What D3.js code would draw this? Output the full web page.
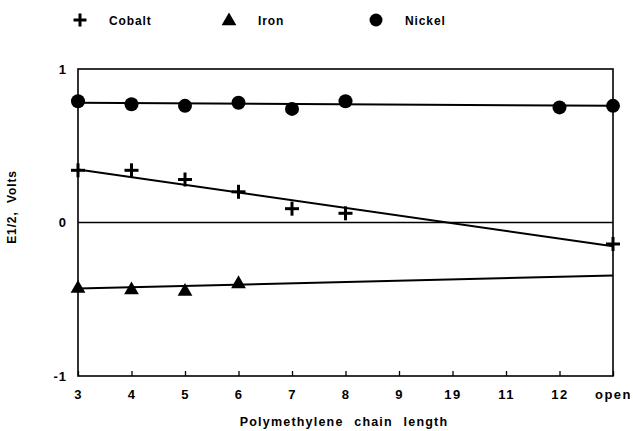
<!DOCTYPE html>
<html><head><meta charset="utf-8">
<script src="https://cdn.jsdelivr.net/npm/d3@7"></script>
<style>
html,body{margin:0;padding:0;background:#fff;}
text{font-family:"Liberation Sans",Arial,sans-serif;font-weight:bold;fill:#000;}
</style></head>
<body>
<svg id="chart" width="633" height="431"></svg>
<script>
const categories = ["3","4","5","6","7","8","9","19","11","12","open"];
const yTicks = [-1, 0, 1];
const yTickLabels = ["-1", "0", "1"];
const seriesNames = ["Cobalt", "Iron", "Nickel"];
const cobaltX = ["3","4","5","6","7","8","open"];
const cobaltY = [0.34, 0.34, 0.28, 0.20, 0.09, 0.06, -0.14];
const ironX = ["3","4","5","6"];
const ironY = [-0.43, -0.44, -0.45, -0.40];
const nickelX = ["3","4","5","6","7","8","12","open"];
const nickelY = [0.79, 0.77, 0.76, 0.78, 0.74, 0.79, 0.75, 0.76];
const fitX = ["3","open"];
const cobaltFit = [0.345, -0.155];
const ironFit = [-0.43, -0.345];
const nickelFit = [0.78, 0.76];

const svg = d3.select("#chart");
const L = 78, R = 613, T = 69, B = 376;
const x = d3.scalePoint().domain(categories).range([L, R]);
const y = d3.scaleLinear().domain([-1, 1]).range([B, T]);
const FONT = "'Liberation Sans',Arial,sans-serif";

// frame
svg.append("rect").attr("x", L).attr("y", T).attr("width", R - L).attr("height", B - T)
  .attr("fill", "none").attr("stroke", "#000").attr("stroke-width", 1.6);
// zero line
svg.append("line").attr("x1", L).attr("x2", R).attr("y1", y(0)).attr("y2", y(0))
  .attr("stroke", "#000").attr("stroke-width", 1.5);

// x axis ticks (inside, upward) and labels
const xAxis = d3.axisBottom(x).tickSize(-5).tickPadding(14);
const gx = svg.append("g").attr("transform", `translate(0,${B})`).call(xAxis);
gx.select(".domain").remove();
gx.selectAll(".tick line").attr("stroke", "#000").attr("stroke-width", 1.3);
gx.selectAll(".tick text").style("font-size", "13px").style("font-family", FONT)
  .style("font-weight", "bold").attr("fill", "#000").attr("letter-spacing", "1.5");

// y tick labels
const yAxis = d3.axisLeft(y).tickValues(yTicks).tickSize(0).tickPadding(11)
  .tickFormat((d, i) => yTickLabels[i]);
const gy = svg.append("g").attr("transform", `translate(${L},0)`).call(yAxis);
gy.select(".domain").remove();
gy.selectAll(".tick text").style("font-size", "13px").style("font-family", FONT)
  .style("font-weight", "bold").attr("fill", "#000").attr("letter-spacing", "1");

// axis titles
svg.append("text").attr("x", 344).attr("y", 426).attr("text-anchor", "middle")
  .style("font-size", "12.5px").attr("letter-spacing", "1.2").attr("word-spacing", "6")
  .text("Polymethylene chain length");
svg.append("text").attr("transform", "translate(16,207) rotate(-90)").attr("text-anchor", "middle")
  .style("font-size", "12px").attr("letter-spacing", "0.9").attr("word-spacing", "4")
  .text("E1/2, Volts");

// fit lines
const line = d3.line().x(d => x(d[0])).y(d => y(d[1]));
[cobaltFit, ironFit, nickelFit].forEach(f => {
  svg.append("path").attr("d", line(fitX.map((c, i) => [c, f[i]])))
    .attr("fill", "none").attr("stroke", "#000").attr("stroke-width", 2);
});

function drawPlus(g, cx, cy, s) {
  g.append("line").attr("x1", cx - s).attr("x2", cx + s).attr("y1", cy).attr("y2", cy)
    .attr("stroke", "#000").attr("stroke-width", 3);
  g.append("line").attr("x1", cx).attr("x2", cx).attr("y1", cy - s).attr("y2", cy + s)
    .attr("stroke", "#000").attr("stroke-width", 3);
}
const tri = d3.symbol().type(d3.symbolTriangle).size(95);

// markers
const gm = svg.append("g");
cobaltX.forEach((c, i) => drawPlus(gm, x(c), y(cobaltY[i]), 7));
ironX.forEach((c, i) => gm.append("path").attr("d", tri())
  .attr("transform", `translate(${x(c)},${y(ironY[i])})`).attr("fill", "#000"));
nickelX.forEach((c, i) => gm.append("circle").attr("cx", x(c)).attr("cy", y(nickelY[i]))
  .attr("r", 7).attr("fill", "#000"));

// legend
const lg = svg.append("g");
const legX = [80, 229, 376];
drawPlus(lg, legX[0], 20, 6.5);
lg.append("path").attr("d", tri()).attr("transform", `translate(${legX[1]},21)`).attr("fill", "#000");
lg.append("circle").attr("cx", legX[2]).attr("cy", 20).attr("r", 6.5).attr("fill", "#000");
seriesNames.forEach((n, i) => lg.append("text").attr("x", legX[i] + 29).attr("y", 25)
  .style("font-size", "12px").attr("letter-spacing", "0.9").text(n));
</script>
</body></html>
